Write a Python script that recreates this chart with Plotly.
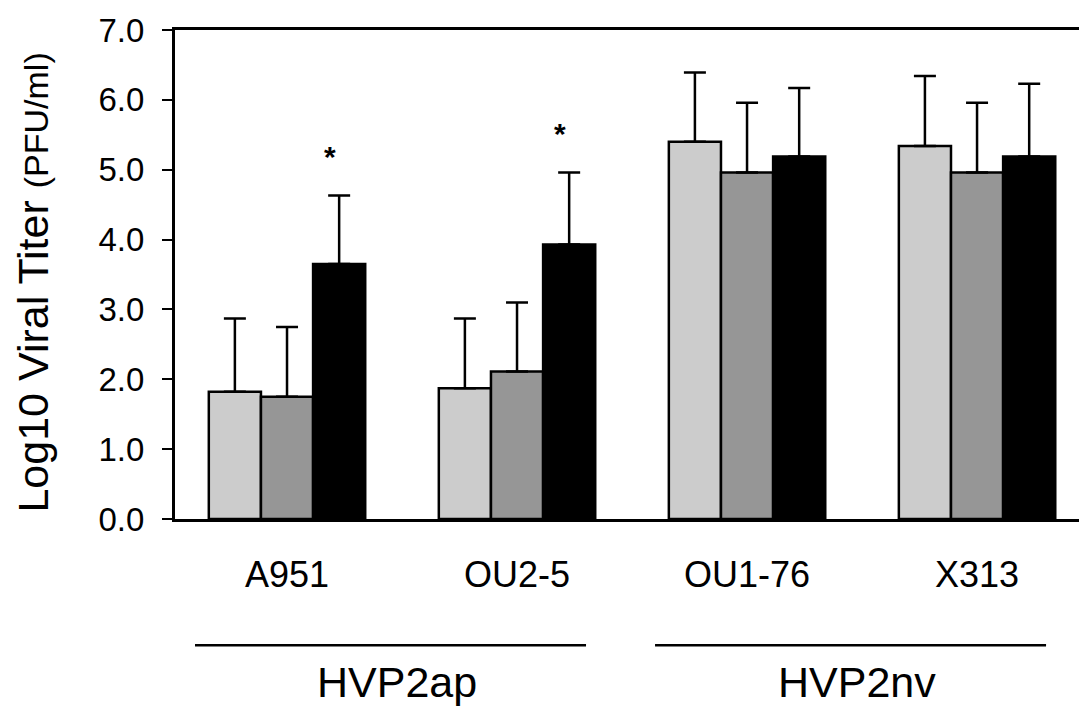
import plotly.graph_objects as go

strains = ["A951", "OU2-5", "OU1-76", "X313"]
series_names = ["Condition 1", "Condition 2", "Condition 3"]
series_colors = ["#cccccc", "#969696", "#000000"]
means = [
    [1.82, 1.87, 5.40, 5.34],
    [1.75, 2.11, 4.96, 4.96],
    [3.65, 3.93, 5.19, 5.19],
]
sds = [
    [1.05, 1.00, 0.99, 1.00],
    [1.00, 0.99, 1.00, 1.00],
    [0.98, 1.03, 0.98, 1.04],
]
y_ticks = [0, 1, 2, 3, 4, 5, 6, 7]
y_ticktext = ["0.0", "1.0", "2.0", "3.0", "4.0", "5.0", "6.0", "7.0"]
significant = [True, True, False, False]
groups = ["HVP2ap", "HVP2nv"]
group_members = [[0, 1], [2, 3]]

xpos = list(range(len(strains)))
narrow = "'Liberation Sans Narrow', 'Arial Narrow', 'Liberation Sans', Arial, sans-serif"
regular = "'Liberation Sans', Arial, sans-serif"

fig = go.Figure()
for name, color, m, s in zip(series_names, series_colors, means, sds):
    fig.add_trace(go.Bar(
        x=xpos, y=m, name=name,
        marker=dict(color=color, line=dict(color="black", width=2.5)),
        error_y=dict(type="data", array=s, arrayminus=[0] * len(s), symmetric=False,
                     color="black", thickness=2.5, width=11),
    ))

annotations = []
bar_w = (1 - 0.32) / 3
for i, sig in enumerate(significant):
    if sig:
        top = means[2][i] + sds[2][i]
        annotations.append(dict(
            x=i + bar_w - 0.04, y=top + 0.3, xref="x", yref="y", text="<b>*</b>",
            showarrow=False, yanchor="bottom", font=dict(size=30, color="black", family=regular)))

shapes = []
for g, mem in zip(groups, group_members):
    x0 = mem[0] - 0.4
    x1 = mem[-1] + 0.3
    shapes.append(dict(type="line", xref="x", yref="paper", x0=x0, x1=x1, y0=-0.258, y1=-0.258,
                       line=dict(color="black", width=2.5)))
    annotations.append(dict(x=(x0 + x1) / 2 + 0.03, y=-0.334, xref="x", yref="paper", text=g,
                            showarrow=False, xanchor="center", yanchor="middle",
                            font=dict(size=43, color="black", family=regular)))

annotations.append(dict(
    x=-0.156, y=0.483, xref="paper", yref="paper", textangle=-90,
    text="Log10 Viral Titer <span style='font-size:34px'>(PFU/ml)</span>",
    showarrow=False, xanchor="center", yanchor="middle",
    font=dict(size=43, color="black", family=regular)))

# page body has an 8px default margin, so the figure is 8px smaller than the window
fig.update_layout(
    width=1079, height=703,
    margin=dict(l=167, r=0, t=22, b=191.5),
    paper_bgcolor="white", plot_bgcolor="white",
    barmode="group", bargap=0.32, bargroupgap=0,
    showlegend=False,
    shapes=shapes, annotations=annotations,
    xaxis=dict(range=[-0.487, 3.478], tickvals=xpos, ticktext=strains, showgrid=False,
               zeroline=False, showline=True, linecolor="black", linewidth=3, mirror=True,
               ticks="", ticklabelstandoff=22,
               tickfont=dict(size=36, color="black", family=narrow)),
    yaxis=dict(range=[0, 7], tickvals=y_ticks, ticktext=y_ticktext, showgrid=False,
               zeroline=False, showline=True, linecolor="black", linewidth=3,
               ticks="outside", ticklen=10, tickwidth=2, tickcolor="black", ticklabelstandoff=11,
               tickfont=dict(size=33, color="black", family=narrow)),
)

fig.write_html("out.html")
